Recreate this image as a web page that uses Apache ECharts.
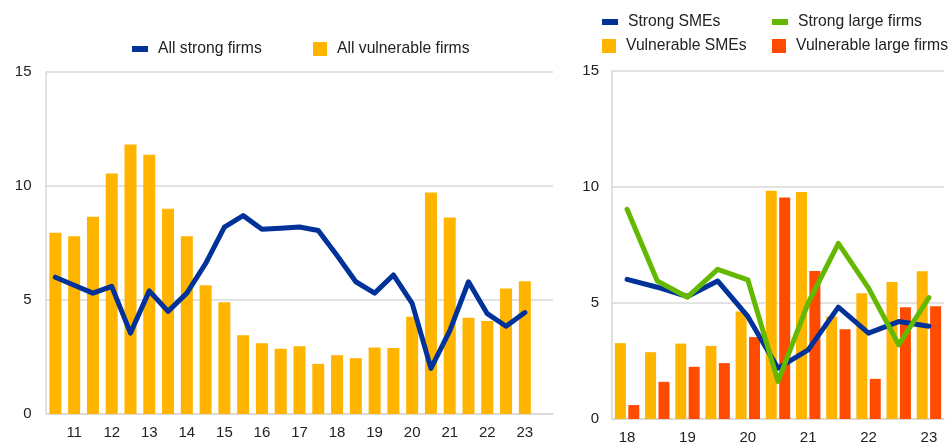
<!DOCTYPE html>
<html>
<head>
<meta charset="utf-8">
<script src="https://cdn.jsdelivr.net/npm/echarts@6/dist/echarts.min.js"></script>
<style>
  html, body { margin: 0; padding: 0; background: #fff; }
  #chart { width: 952px; height: 445px; }
</style>
</head>
<body>
<div id="chart"></div>
<script>
// left panel: half-years, 2010 H2 .. 2023 H2 (last slot empty)
const leftPeriods = [
  '10 H2', '11 H1', '11 H2', '12 H1', '12 H2', '13 H1', '13 H2', '14 H1', '14 H2',
  '15 H1', '15 H2', '16 H1', '16 H2', '17 H1', '17 H2', '18 H1', '18 H2',
  '19 H1', '19 H2', '20 H1', '20 H2', '21 H1', '21 H2', '22 H1', '22 H2', '23 H1', '23 H2'
];
const allStrong = [
  6.0, 5.65, 5.3, 5.6, 3.55, 5.4, 4.5, 5.3, 6.6, 8.2, 8.7, 8.1, 8.15, 8.2,
  8.05, 6.95, 5.8, 5.3, 6.1, 4.85, 2.0, 3.65, 5.8, 4.4, 3.85, 4.45, null
];
const allVulnerable = [
  7.95, 7.8, 8.65, 10.55, 11.82, 11.37, 9.0, 7.8, 5.65, 4.9, 3.45, 3.1, 2.86,
  2.97, 2.2, 2.58, 2.45, 2.92, 2.9, 4.27, 9.72, 8.62, 4.22, 4.08, 5.5, 5.82, null
];

// right panel: half-years 2018 H1 .. 2023 H1
const rightPeriods = [
  '18 H1', '18 H2', '19 H1', '19 H2', '20 H1', '20 H2',
  '21 H1', '21 H2', '22 H1', '22 H2', '23 H1'
];
const strongSMEs = [6.02, 5.68, 5.28, 5.95, 4.42, 2.19, 2.98, 4.82, 3.7, 4.2, 4.0];
const strongLarge = [9.04, 5.95, 5.25, 6.45, 6.0, 1.62, 5.0, 7.57, 5.64, 3.2, 5.23];
const vulnerableSMEs = [3.27, 2.88, 3.25, 3.15, 4.63, 9.84, 9.78, 4.42, 5.42, 5.91, 6.37];
const vulnerableLarge = [0.6, 1.6, 2.25, 2.41, 3.53, 9.55, 6.38, 3.87, 1.73, 4.82, 4.86];

const blue = '#003299';
const yellow = '#ffb400';
const red = '#ff4b00';
const green = '#65b800';
const grey = '#d9d9d9';
const textColor = '#222';
const font = 'Liberation Sans, Arial, sans-serif';

function yearLabel(v) {
  return v.endsWith('H1') ? v.slice(0, 2) : '';
}

function valueAxis(gridIndex, margin) {
  return {
    type: 'value',
    gridIndex: gridIndex,
    min: 0,
    max: 15,
    interval: 5,
    axisLine: { show: true, lineStyle: { color: grey, width: 1.5 } },
    axisTick: { show: false },
    axisLabel: { color: textColor, fontSize: 15, fontFamily: font, margin: margin },
    splitLine: { lineStyle: { color: grey, width: 1.5 } }
  };
}

function catAxis(gridIndex, data) {
  return {
    type: 'category',
    gridIndex: gridIndex,
    data: data,
    axisLine: { lineStyle: { color: grey, width: 1.5 } },
    axisTick: { show: false },
    axisLabel: {
      interval: 0,
      color: textColor,
      fontSize: 15,
      fontFamily: font,
      margin: 11,
      formatter: yearLabel
    }
  };
}

function legendItem(name, left, top, isLine) {
  return {
    data: [name],
    left: left,
    top: top,
    icon: 'rect',
    itemWidth: isLine ? 16 : 14,
    itemHeight: isLine ? 6 : 14,
    itemGap: 0,
    textStyle: { color: textColor, fontSize: 15.7, fontFamily: font, padding: [0, 0, 0, 5] },
    selectedMode: false
  };
}

let myChart = echarts.init(document.getElementById('chart'), null, { renderer: 'canvas' });

let option = {
  animation: false,
  textStyle: { fontFamily: font },
  legend: [
    legendItem('All strong firms', 127, 36, true),
    legendItem('All vulnerable firms', 308, 36, false),
    legendItem('Strong SMEs', 597, 9, true),
    legendItem('Strong large firms', 767, 9, true),
    legendItem('Vulnerable SMEs', 597, 33, false),
    legendItem('Vulnerable large firms', 767, 33, false)
  ],
  grid: [
    { left: 46, right: 399, top: 72, bottom: 31 },
    { left: 612, right: 8, top: 71, bottom: 26 }
  ],
  xAxis: [catAxis(0, leftPeriods), catAxis(1, rightPeriods)],
  yAxis: [valueAxis(0, 14.5), valueAxis(1, 13)],
  series: [
    {
      name: 'All vulnerable firms',
      type: 'bar',
      xAxisIndex: 0,
      yAxisIndex: 0,
      barWidth: 12,
      itemStyle: { color: yellow },
      data: allVulnerable
    },
    {
      name: 'All strong firms',
      type: 'line',
      xAxisIndex: 0,
      yAxisIndex: 0,
      showSymbol: false,
      lineStyle: { color: blue, width: 5, join: 'round', cap: 'round' },
      itemStyle: { color: blue },
      data: allStrong
    },
    {
      name: 'Vulnerable SMEs',
      type: 'bar',
      xAxisIndex: 1,
      yAxisIndex: 1,
      barWidth: 11,
      barGap: '22%',
      itemStyle: { color: yellow },
      data: vulnerableSMEs
    },
    {
      name: 'Vulnerable large firms',
      type: 'bar',
      xAxisIndex: 1,
      yAxisIndex: 1,
      barWidth: 11,
      barGap: '22%',
      itemStyle: { color: red },
      data: vulnerableLarge
    },
    {
      name: 'Strong SMEs',
      type: 'line',
      xAxisIndex: 1,
      yAxisIndex: 1,
      showSymbol: false,
      lineStyle: { color: blue, width: 5, join: 'round', cap: 'round' },
      itemStyle: { color: blue },
      data: strongSMEs
    },
    {
      name: 'Strong large firms',
      type: 'line',
      xAxisIndex: 1,
      yAxisIndex: 1,
      showSymbol: false,
      lineStyle: { color: green, width: 5, join: 'round', cap: 'round' },
      itemStyle: { color: green },
      data: strongLarge
    }
  ]
};

myChart.setOption(option);
</script>
</body>
</html>
